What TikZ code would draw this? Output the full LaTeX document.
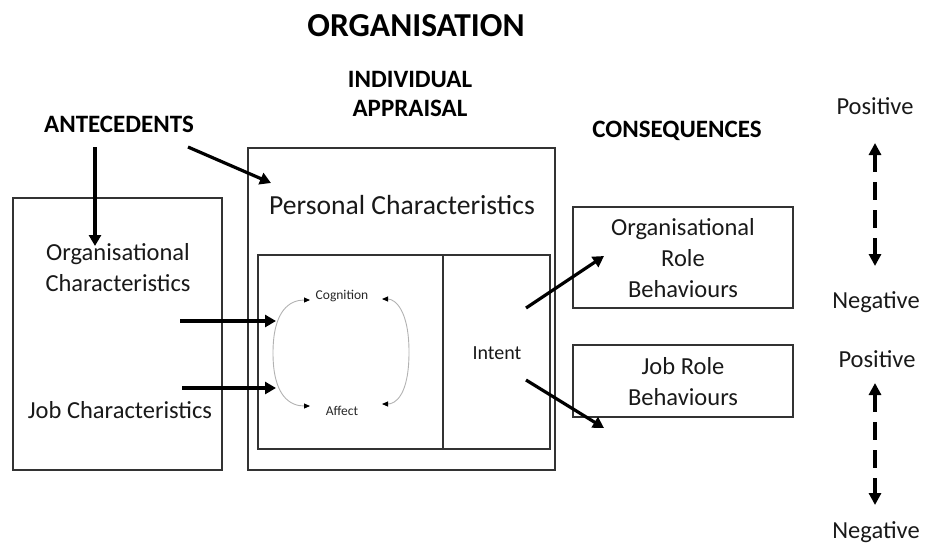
\documentclass[tikz,border=0pt]{standalone}
\usepackage{fontspec}
\setmainfont{Carlito}
\usetikzlibrary{arrows.meta}
\begin{document}
\begin{tikzpicture}[x=1pt,y=-1pt,
  box/.style={draw=black!80,line width=1.2pt},
  thick arrow/.style={line width=3.2pt,-{Triangle[length=11pt,width=12pt]}},
  dash arrow/.style={line width=3.8pt,dash pattern=on 18pt off 10pt,{Triangle[length=12pt,width=12pt]}-{Triangle[length=12pt,width=12pt]}},
  grey arc/.style={draw=black!30,line width=0.9pt,-{Triangle[length=6pt,width=5pt,black]}},
  lbl/.style={font=\fontsize{24.5}{31}\selectfont,align=center,inner sep=0pt,text=black!90},
  head/.style={font=\bfseries\fontsize{25}{28.5}\selectfont,align=center,inner sep=0pt},
  pn/.style={font=\fontsize{24.5}{28}\selectfont,inner sep=0pt,text=black!90},
  small/.style={font=\fontsize{13.5}{15}\selectfont,inner sep=0pt,text=black!85}]
\useasboundingbox (0,0) rectangle (928,552);
% titles
\node[font=\bfseries\fontsize{33.5}{38}\selectfont,inner sep=0pt] (org) at (416,26) {ORGANISATION};
\node[head] (ia) at (410,94) {INDIVIDUAL\\APPRAISAL};
\node[head] (ante) at (119,124) {ANTECEDENTS};
\node[head] (cons) at (677,131) {CONSEQUENCES};
% boxes
\draw[box] (13,198) rectangle (222,470);
\draw[box] (248,148) rectangle (555,470);
\draw[box] (258,255) rectangle (443,449);
\draw[box] (443,255) rectangle (550,449);
\draw[box] (573,207) rectangle (793,308);
\draw[box] (573,345) rectangle (793,417);
% texts
\node[lbl] (orgc) at (118,268) {Organisational\\Characteristics};
\node[lbl] (jobc) at (120,410) {Job Characteristics};
\node[lbl,font=\fontsize{27.6}{31}\selectfont] (pers) at (402,205) {Personal Characteristics};
\node[lbl,font=\fontsize{20}{22}\selectfont] (intent) at (497,353) {Intent};
\node[lbl] (orb) at (683,258) {Organisational\\Role\\Behaviours};
\node[lbl] (jrb) at (683,382) {Job Role\\Behaviours};
\node[small] (cog) at (342,296) {Cognition};
\node[small] (aff) at (342,411) {Affect};
% right scale
\node[pn] (pos1) at (875,106) {Positive};
\node[pn] (neg1) at (876,302) {Negative};
\node[pn] (pos2) at (877,359) {Positive};
\node[pn] (neg2) at (876,532) {Negative};
\coordinate (a1t) at (875,143);
\coordinate (a1b) at (875,266);
\coordinate (a2t) at (875,383);
\coordinate (a2b) at (875,505);
\draw[dash arrow] (a1t) -- (a1b);
\draw[dash arrow] (a2t) -- (a2b);
% arrows
\coordinate (d1s) at (95,147); \coordinate (d1e) at (95,246);
\draw[thick arrow] (d1s) -- (d1e);
\coordinate (d2s) at (188,147); \coordinate (d2e) at (271,183);
\draw[thick arrow] (d2s) -- (d2e);
\coordinate (h1s) at (180,321); \coordinate (h1e) at (276,321);
\draw[thick arrow] (h1s) -- (h1e);
\coordinate (h2s) at (182,388); \coordinate (h2e) at (276,388);
\draw[thick arrow] (h2s) -- (h2e);
\coordinate (i1s) at (526,308); \coordinate (i1e) at (604,256);
\draw[thick arrow] (i1s) -- (i1e);
\coordinate (i2s) at (526,380); \coordinate (i2e) at (604,428);
\draw[thick arrow] (i2s) -- (i2e);
% grey arcs
\coordinate (l1) at (310,300); \coordinate (l2) at (310,406);
\coordinate (r1) at (382,299); \coordinate (r2) at (382,404);
\draw[grey arc] (273,353) .. controls (273,310) and (290,300) .. (l1);
\draw[grey arc] (273,353) .. controls (273,396) and (290,406) .. (l2);
\draw[grey arc] (409,352) .. controls (409,310) and (395,299) .. (r1);
\draw[grey arc] (409,352) .. controls (409,396) and (395,404) .. (r2);
\end{tikzpicture}
\end{document}
